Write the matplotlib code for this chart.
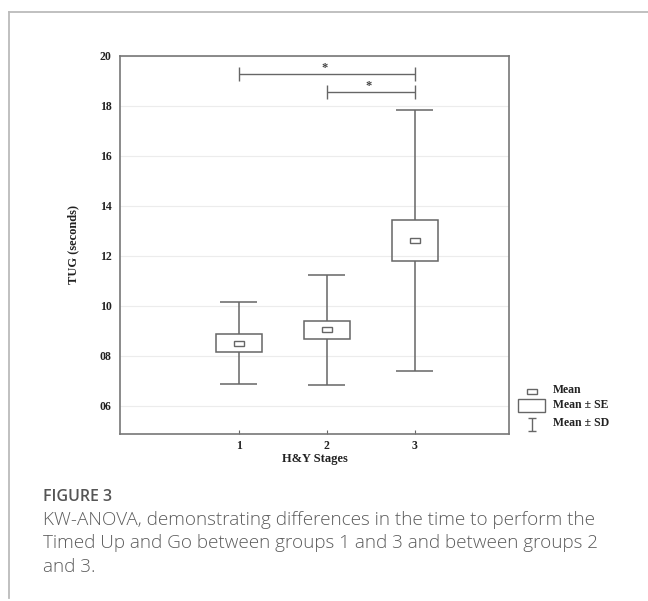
import matplotlib
matplotlib.use('Agg')
import matplotlib.pyplot as plt
from matplotlib.patches import Rectangle
from matplotlib.lines import Line2D

# TUG time per H&Y stage
stages = [1, 2, 3]
means = [8.52, 9.05, 12.62]
se = [0.36, 0.37, 0.82]
sd = [1.65, 2.20, 5.22]

# Kruskal-Wallis post-hoc pairs and bracket heights
sig_pairs = [(1, 3), (2, 3)]
sig_levels = [19.28, 18.56]

yticks = [6, 8, 10, 12, 14, 16, 18, 20]
ytick_labels = ['06', '08', '10', '12', '14', '16', '18', '20']

caption_head = 'FIGURE 3'
caption_lines = ['KW-ANOVA, demonstrating differences in the time to perform the',
                 'Timed Up and Go between groups 1 and 3 and between groups 2',
                 'and 3.']

line_c = '#666666'
serif = ['Liberation Serif', 'DejaVu Serif']

W, H = 648, 601
fig = plt.figure(figsize=(W / 100, H / 100), dpi=100)

ax = fig.add_axes([120 / W, 1 - 434 / H, 389 / W, 378 / H])
ax.set_xlim(-0.352, 4.07)
ax.set_ylim(4.88, 20)

box_w = 0.52
cap_w = 0.42
mk_w, mk_h = 0.11, 0.2
for x, m, s, d in zip(stages, means, se, sd):
    ax.vlines(x, m + s, m + d, color=line_c, lw=1.1, zorder=3)
    ax.vlines(x, m - d, m - s, color=line_c, lw=1.1, zorder=3)
    ax.hlines([m + d, m - d], x - cap_w / 2, x + cap_w / 2, color=line_c, lw=1.1, zorder=3)
    ax.add_patch(Rectangle((x - box_w / 2, m - s), box_w, 2 * s, fill=False,
                           ec=line_c, lw=1.1, zorder=3))
    ax.add_patch(Rectangle((x - mk_w / 2, m - mk_h / 2), mk_w, mk_h, fill=False,
                           ec=line_c, lw=1.0, zorder=3))

# significance brackets
for (a, b), lev in zip(sig_pairs, sig_levels):
    ax.hlines(lev, a, b, color=line_c, lw=1.0)
    ax.vlines([a, b], lev - 0.28, lev + 0.28, color=line_c, lw=1.0)
    ax.text((a + b) / 2 - 0.03, lev + 0.02, '*', ha='center', va='bottom',
            fontsize=9, color='#444444', family=serif, fontweight='bold')

ax.set_yticks(yticks)
ax.set_yticklabels(ytick_labels)
ax.set_xticks(stages)
ax.yaxis.grid(True, color='#ececec', lw=0.8)
ax.set_axisbelow(True)
ax.tick_params(axis='y', length=0, pad=6)
ax.tick_params(axis='x', direction='in', length=3, color=line_c, pad=4)
for lab in ax.get_xticklabels() + ax.get_yticklabels():
    lab.set_family(serif)
    lab.set_fontweight('bold')
    lab.set_fontsize(8.5)
    lab.set_color('#222222')
for sp in ax.spines.values():
    sp.set_color('#777777')
    sp.set_linewidth(1.2)

ax.set_xlabel('H&Y Stages', family=serif, fontweight='bold', fontsize=9,
              color='#222222', labelpad=1)
ax.set_ylabel('TUG (seconds)', family=serif, fontweight='bold', fontsize=9,
              color='#222222', labelpad=15)

# key for the symbols, laid out in pixel units
lg = fig.add_axes([510 / W, 1 - 440 / H, 138 / W, 70 / H])
lg.set_xlim(510, 648)
lg.set_ylim(440, 370)
lg.axis('off')
lg.add_patch(Rectangle((527, 389), 10, 5, fill=False, ec=line_c, lw=1.0))
lg.add_patch(Rectangle((518, 399), 27, 13, fill=False, ec=line_c, lw=1.0))
lg.vlines(532, 418, 431, color=line_c, lw=1.0)
lg.hlines([418, 431], 528, 536, color=line_c, lw=1.0)
for y, t in zip([390, 405, 423], ['Mean', 'Mean ± SE', 'Mean ± SD']):
    lg.text(553, y, t, ha='left', va='center', family=serif, fontweight='bold',
            fontsize=8.5, color='#222222')

# page frame
fig.add_artist(Line2D([9 / W, 1], [1 - 12 / H, 1 - 12 / H], transform=fig.transFigure,
                      color='#bbbbbb', lw=1.3))
fig.add_artist(Line2D([9 / W, 9 / W], [1 - 12 / H, 1 - 598 / H], transform=fig.transFigure,
                      color='#bbbbbb', lw=1.3))

cap_font = ['Open Sans', 'DejaVu Sans']
fig.text(43 / W, 1 - 497 / H, caption_head, ha='left', va='center', family=cap_font,
         fontweight='semibold', fontsize=11.5, color='#555555')
for i, line in enumerate(caption_lines):
    fig.text(43 / W, 1 - (520 + i * 23.5) / H, line, ha='left', va='center',
             family=cap_font, fontweight='light', fontsize=13.6, color='#5c5c5c')

fig.savefig('out.png', dpi=100)
